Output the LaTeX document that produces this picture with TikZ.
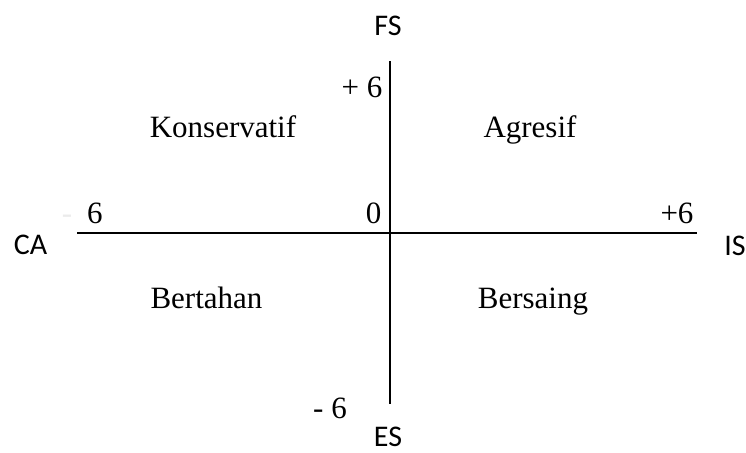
\documentclass[tikz,border=0pt]{standalone}
\usepackage{fontspec}
\setmainfont{Liberation Serif}
\newfontfamily\calibri{Carlito}
\usepackage{tikz}
\usetikzlibrary{positioning}
\definecolor{pudar}{HTML}{EBEBEB}

\begin{document}
\begin{tikzpicture}[x=0.5pt,y=-0.5pt,
  axis/.style={line width=1pt,black},
  kuad/.style={font=\fontsize{15.5}{18}\selectfont,anchor=base,inner sep=0pt},
  nilai/.style={font=\fontsize{15.5}{18}\selectfont,anchor=base,inner sep=0pt},
  sumbu/.style={font=\calibri\fontsize{15}{18}\selectfont,anchor=base,inner sep=0pt}
]
  \useasboundingbox (0,0) rectangle (746,452);

  % ujung sumbu
  \coordinate (kiri) at (77,233);
  \coordinate (kanan) at (697,233);
  \coordinate (atas) at (390,61);
  \coordinate (bawah) at (390,404);
  \draw[axis] (kiri) -- (kanan);
  \draw[axis] (atas) -- (bawah);

  % label sumbu
  \node[sumbu] (fs) at (388,35) {FS};
  \node[sumbu] (es) at (388,446) {ES};
  \node[sumbu] (ca) at (30.5,254) {CA};
  \node[sumbu] (is) at (735,255) {IS};

  % nilai
  \node[nilai] (plusenam) at (362,97) {+ 6};
  \node[nilai] (minusenam) at (330,418) {- 6};
  \node[nilai] (nol) at (373.5,223) {0};
  \node[nilai,anchor=base east] (kirienam) at (103,223) {{\color{pudar}-}\hspace{7.5pt}6};
  \node[nilai] (kananenam) at (677,223) {+6};

  % kuadran
  \node[kuad] (konservatif) at (223,137) {Konservatif};
  \node[kuad] (agresif) at (530,137) {Agresif};
  \node[kuad] (bertahan) at (206.5,308) {Bertahan};
  \node[kuad] (bersaing) at (533,308) {Bersaing};
\end{tikzpicture}
\end{document}
